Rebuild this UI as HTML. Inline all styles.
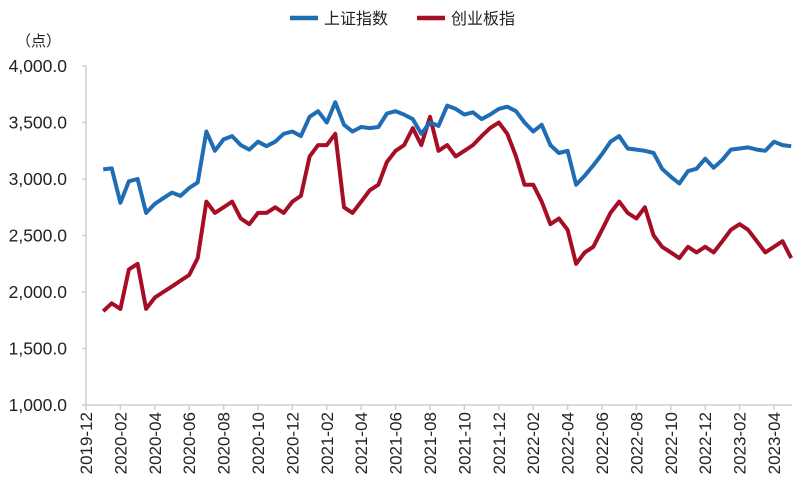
<!DOCTYPE html>
<html><head><meta charset="utf-8"><style>
body{margin:0;background:#fff}
svg{display:block;font-family:"Liberation Sans","Noto Sans CJK SC",sans-serif}
</style></head><body>
<svg id="chart" width="804" height="487" viewBox="0 0 804 487">
<g>
<line x1="290" y1="18" x2="318" y2="18" stroke="#1f6db5" stroke-width="4.5"/>
<text x="324" y="24" font-size="16" fill="#222">上证指数</text>
<line x1="417" y1="18" x2="445" y2="18" stroke="#a50e25" stroke-width="4.5"/>
<text x="451" y="24" font-size="16" fill="#222">创业板指</text>
</g>
<text x="16" y="46" font-size="15" fill="#222">（点）</text>
<g id="axes"></g>
<g id="series"></g>
</svg>
<script>
const yTicks=[1000,1500,2000,2500,3000,3500,4000];
const xTickLabels=["2019-12","2020-02","2020-04","2020-06","2020-08","2020-10","2020-12","2021-02","2021-04","2021-06","2021-08","2021-10","2021-12","2022-02","2022-04","2022-06","2022-08","2022-10","2022-12","2023-02","2023-04"];
const sseValues=[3085,3095,2790,2980,3000,2700,2780,2830,2880,2850,2920,2970,3420,3250,3350,3380,3300,3260,3330,3290,3330,3400,3420,3380,3550,3600,3500,3680,3480,3420,3460,3450,3460,3580,3600,3570,3530,3400,3500,3470,3650,3620,3570,3590,3530,3570,3620,3640,3600,3500,3420,3480,3300,3230,3250,2950,3030,3120,3220,3330,3380,3270,3260,3250,3230,3090,3020,2960,3070,3090,3180,3100,3170,3260,3270,3280,3260,3250,3330,3300,3290];
const chinextValues=[1830,1900,1850,2200,2250,1850,1950,2000,2050,2100,2150,2300,2800,2700,2750,2800,2650,2600,2700,2700,2750,2700,2800,2850,3200,3300,3300,3400,2750,2700,2800,2900,2950,3150,3250,3300,3450,3300,3550,3250,3300,3200,3250,3300,3380,3450,3500,3400,3200,2950,2950,2800,2600,2650,2550,2250,2350,2400,2550,2700,2800,2700,2650,2750,2500,2400,2350,2300,2400,2350,2400,2350,2450,2550,2600,2550,2450,2350,2400,2450,2300];
// categories: semi-monthly dates starting 2020-01
const dates=[];
for(let y=2020;y<=2023;y++){for(let m=1;m<=12;m++){dates.push(y+"-"+String(m).padStart(2,"0")+"-01");dates.push(y+"-"+String(m).padStart(2,"0")+"-16");}}
const NS="http://www.w3.org/2000/svg";
const X0=86,PXM=17.2,Y0=405,PXV=56.5/500;
function monthsOf(s){const p=s.split("-").map(Number);return (p[0]-2019)*12+(p[1]-12)+((p[2]||1)-1)/30.5;}
function xScale(s){return X0+monthsOf(s)*PXM;}
function yScale(v){return Y0-(v-1000)*PXV;}
const axes=document.getElementById("axes");
function mk(tag,attrs,parent){const e=document.createElementNS(NS,tag);for(const k in attrs)e.setAttribute(k,attrs[k]);parent.appendChild(e);return e;}
const yl=mk("line",{x1:X0,y1:yScale(4000),x2:X0,y2:Y0,stroke:"#cfcfcf","stroke-width":1.5},axes);


const xl=mk("line",{x1:X0,y1:Y0,x2:792,y2:Y0,stroke:"#cfcfcf","stroke-width":1.5},axes);


yTicks.forEach(v=>{
  const y=yScale(v);
  mk("line",{x1:X0-4,y1:y,x2:X0,y2:y,stroke:"#cfcfcf","stroke-width":1.5},axes);
  const t=mk("text",{x:67,y:y+6,"text-anchor":"end","font-size":17.5,fill:"#222"},axes);
  t.textContent=v.toLocaleString("en-US",{minimumFractionDigits:1});
  
  
});
xTickLabels.forEach(s=>{
  const x=xScale(s+"-01");
  mk("line",{x1:x,y1:Y0,x2:x,y2:Y0+5,stroke:"#cfcfcf","stroke-width":1.5},axes);
  const t=mk("text",{x:0,y:0,"text-anchor":"end","font-size":17,fill:"#222",transform:`translate(${x+6},${Y0+7}) rotate(-90)`},axes);
  t.textContent=s;
  
  
});
const series=document.getElementById("series");
function line(vals,color,name){
  const pts=vals.map((v,i)=>xScale(dates[i]).toFixed(1)+","+yScale(v).toFixed(1)).join(" ");
  const p=mk("polyline",{points:pts,fill:"none",stroke:color,"stroke-width":4,"stroke-linejoin":"round"},series);
  
  
}
line(chinextValues,"#a50e25","chinext-line");
line(sseValues,"#1f6db5","sse-line");
</script>
</body></html>
